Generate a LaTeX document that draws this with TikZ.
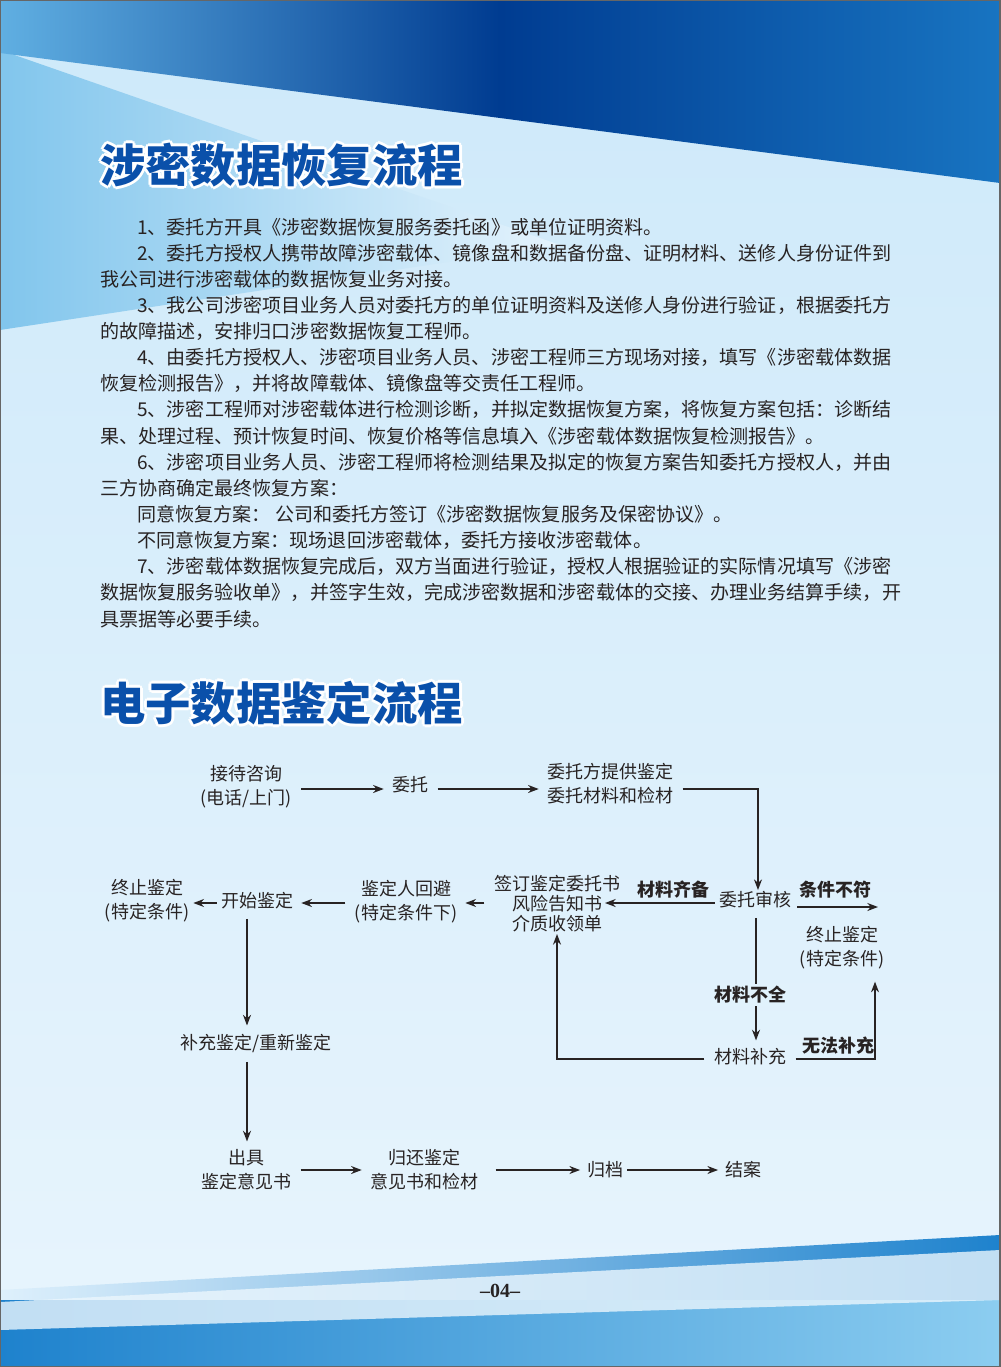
\documentclass[tikz,border=0pt]{standalone}
\usepackage{fontspec}
\setmainfont{Noto Sans CJK SC}
\usetikzlibrary{arrows.meta}
\definecolor{dkblue}{RGB}{0,60,145}
\definecolor{midblue}{RGB}{30,130,205}
\definecolor{ltblue}{RGB}{140,205,240}
\definecolor{paleblue}{RGB}{222,240,252}
\definecolor{ttl}{RGB}{10,80,170}
\definecolor{txt}{RGB}{40,35,35}
\begin{document}
\begin{tikzpicture}[x=0.75pt,y=-0.75pt,
  body/.style={anchor=west,inner sep=0pt,font=\fontsize{14.3pt}{16pt}\selectfont,text=txt},
  fc/.style={align=center,inner sep=1pt,font=\fontsize{13.5pt}{18pt}\selectfont,text=txt},
  fb/.style={inner sep=1pt,font=\fontsize{13.5pt}{16pt}\selectfont\bfseries,text=txt},
  tt/.style={anchor=west,inner sep=0pt,font=\fontsize{34pt}{36pt}\selectfont\bfseries},
  ar/.style={draw=txt,line width=1.1pt,-{Stealth[length=8pt,width=6pt]}},
  gp/.style={shorten <=6pt,shorten >=5pt}]
\useasboundingbox (0,0) rectangle (1000,1367);
% background
\shade[top color=paleblue!80!ltblue,bottom color=paleblue!70!white] (0,0) rectangle (1000,1367);
\shade[left color=ltblue!90!midblue,right color=paleblue!80!white] (0,50) -- (560,245) -- (0,330) -- cycle;
\shade[left color=ltblue!60!midblue,right color=midblue!80!dkblue,middle color=dkblue] (0,0) -- (1000,0) -- (1000,183) -- (0,53) -- cycle;
% bottom
\shade[left color=paleblue,right color=midblue] (0,1290) -- (1000,1235) -- (1000,1367) -- (0,1367) -- cycle;
\shade[left color=midblue,right color=ltblue] (0,1300) -- (1000,1300) -- (1000,1367) -- (0,1367) -- cycle;
\fill[paleblue!60!white,opacity=0.8] (0,1302) -- (1000,1250) -- (1000,1300) -- (0,1330) -- cycle;
\draw[gray!80!black,line width=1.5pt] (0,0) rectangle (1000,1367);
% titles
\foreach \dx/\dy in {-2/-2,2/-2,-2/2,2/2,0/-3,0/3,-3/0,3/0}{
  \node[tt,text=white] at (100+\dx,165+\dy) {涉密数据恢复流程};
  \node[tt,text=white] at (100+\dx,703+\dy) {电子数据鉴定流程};}
\node (t1) [tt,text=ttl] at (100,165) {涉密数据恢复流程};
\node (t2) [tt,text=ttl] at (100,703) {电子数据鉴定流程};
% body text
\node (l1) [body] at (137,227) {1、委托方开具《涉密数据恢复服务委托函》或单位证明资料。};
\node (l2) [body] at (137,253) {2、委托方授权人携带故障涉密载体、镜像盘和数据备份盘、证明材料、送修人身份证件到};
\node (l3) [body] at (100,279) {我公司进行涉密载体的数据恢复业务对接。};
\node (l4) [body] at (137,305) {3、我公司涉密项目业务人员对委托方的单位证明资料及送修人身份进行验证，根据委托方};
\node (l5) [body] at (100,331) {的故障描述，安排归口涉密数据恢复工程师。};
\node (l6) [body] at (137,357) {4、由委托方授权人、涉密项目业务人员、涉密工程师三方现场对接，填写《涉密载体数据};
\node (l7) [body] at (100,383) {恢复检测报告》，并将故障载体、镜像盘等交责任工程师。};
\node (l8) [body] at (137,409) {5、涉密工程师对涉密载体进行检测诊断，并拟定数据恢复方案，将恢复方案包括：诊断结};
\node (l9) [body] at (100,436) {果、处理过程、预计恢复时间、恢复价格等信息填入《涉密载体数据恢复检测报告》。};
\node (l10) [body] at (137,462) {6、涉密项目业务人员、涉密工程师将检测结果及拟定的恢复方案告知委托方授权人，并由};
\node (l11) [body] at (100,488) {三方协商确定最终恢复方案：};
\node (l12) [body] at (137,514) {同意恢复方案：\ 公司和委托方签订《涉密数据恢复服务及保密协议》。};
\node (l13) [body] at (137,540) {不同意恢复方案：现场退回涉密载体，委托方接收涉密载体。};
\node (l14) [body] at (137,566) {7、涉密载体数据恢复完成后，双方当面进行验证，授权人根据验证的实际情况填写《涉密};
\node (l15) [body] at (100,592) {数据恢复服务验收单》，并签字生效，完成涉密数据和涉密载体的交接、办理业务结算手续，开};
\node (l16) [body] at (100,619) {具票据等必要手续。};
% flowchart
\node (a) [fc] at (246,787) {接待咨询\\(电话/上门)};
\node (b) [fc] at (410,785) {委托};
\node (c) [fc] at (610,784) {委托方提供鉴定\\委托材料和检材};
\node (d) [fc] at (755,900) {委托审核};
\node (e) [fc] at (842,948) {终止鉴定\\(特定条件)};
\node (f) [fc] at (557,904) {签订鉴定委托书\\[-3pt]风险告知书\\[-3pt]介质收领单};
\node (g) [fc] at (406,902) {鉴定人回避\\(特定条件下)};
\node (h) [fc] at (257,901) {开始鉴定};
\node (i) [fc] at (147,901) {终止鉴定\\(特定条件)};
\node (j) [fc] at (750,1057) {材料补充};
\node (k) [fc] at (256,1043) {补充鉴定/重新鉴定};
\node (m) [fc] at (246,1170) {出具\\鉴定意见书};
\node (n) [fc] at (424,1170) {归还鉴定\\意见书和检材};
\node (o) [fc] at (605,1170) {归档};
\node (p) [fc] at (743,1170) {结案};
\coordinate (c1) at (758,789);
\coordinate (d2) at (797,907);
\coordinate (e1) at (878,907);
\coordinate (f1) at (605,903);
\coordinate (j1) at (557,1059);
\coordinate (j2) at (875,1059);
\draw[ar,gp] (a.east |- 0,789) -- (b.west |- 0,789);
\draw[ar,gp] (b.east |- 0,789) -- (c.west |- 0,789);
\draw[ar,shorten <=6pt] (c.east |- 0,789) -- (c1) -- (d.north -| c1);
\draw[ar] (d2) -- (e1);
\node (lb1) [fb] at (835,890) {条件不符};
\draw[ar,shorten <=2pt] (d.west |- 0,903) -- (f1);
\node (lb2) [fb] at (673,890) {材料齐备};
\draw[ar,gp] (f.west |- 0,903) -- (g.east |- 0,903);
\draw[ar,gp] (g.west |- 0,903) -- (h.east |- 0,903);
\draw[ar,shorten <=2pt,shorten >=2pt] (h.west |- 0,903) -- (i.east |- 0,903);
\draw[ar,gp] (d.south -| 756,0) -- (j.north -| 756,0);
\node (lb3) [fb,fill=paleblue!90!white,inner sep=2pt] at (750,995) {材料不全};
\draw[ar,shorten <=6pt] (j.west |- 0,1059) -- (j1) -- (f.south -| j1);
\draw[ar,shorten <=6pt,shorten >=8pt] (j.east |- 0,1059) -- (j2) -- (e.south -| j2);
\node (lb4) [fb] at (838,1046) {无法补充};
\draw[ar,gp] (h.south -| 247,0) -- (k.north -| 247,0);
\draw[ar,gp] (k.south -| 247,0) -- (m.north -| 247,0);
\draw[ar,gp] (m.east |- 0,1170) -- (n.west |- 0,1170);
\draw[ar,shorten <=12pt,shorten >=4pt] (n.east |- 0,1170) -- (o.west |- 0,1170);
\draw[ar,shorten <=2pt,shorten >=4pt] (o.east |- 0,1170) -- (p.west |- 0,1170);
\node (pg) [text=txt] at (500,1291) {{\fontspec{Liberation Serif}\fontsize{15pt}{16pt}\selectfont\bfseries –04–}};
\end{tikzpicture}
\end{document}
